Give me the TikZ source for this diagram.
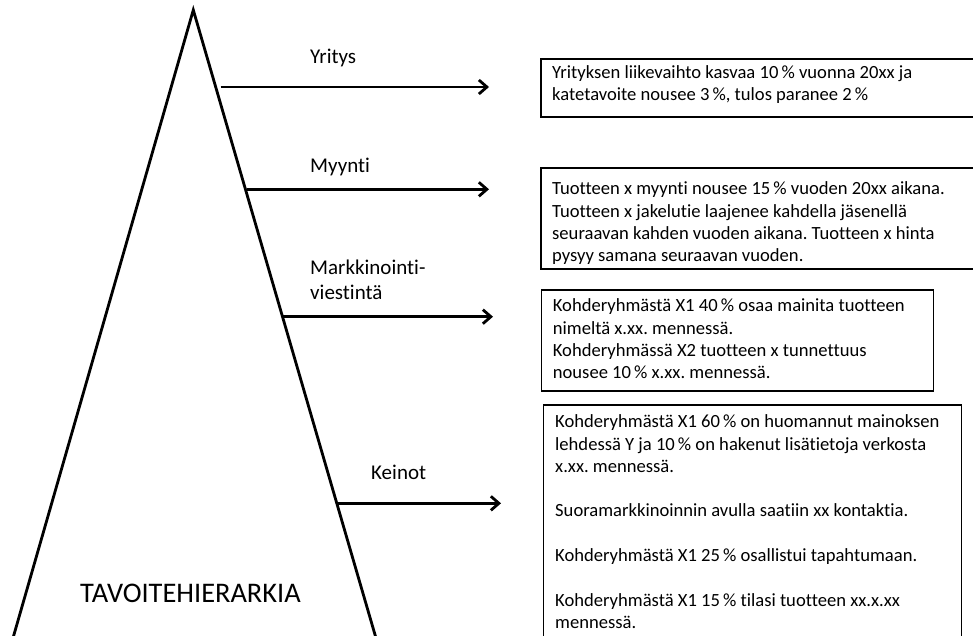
\documentclass[tikz,border=0pt]{standalone}
\usepackage{fontspec}
\setmainfont{Carlito}[Ligatures={NoCommon}]
\usetikzlibrary{arrows.meta,calc}
\frenchspacing
\newcommand{\boxlines}[1]{\parbox[t]{420pt}{\raggedright\frenchspacing\fontsize{18.6pt}{22.3pt}\selectfont #1}}
\tikzset{
  edge/.style={line width=2.8pt, line join=miter},
  arr/.style={line width=2.8pt, -{Straight Barb[length=8pt,width=14pt,line width=2.8pt]}},
  boxframe/.style={draw, line width=1.6pt, inner sep=0pt, anchor=north west},
  boxtxt/.style={anchor=base west, inner sep=0pt},
  lbl/.style={anchor=base west, inner sep=0pt, font=\fontsize{21pt}{25.5pt}\selectfont},
  title/.style={anchor=base west, inner sep=0pt, font=\fontsize{28.4pt}{32pt}\selectfont}
}
\begin{document}
\begin{tikzpicture}[x=1pt,y=-1pt]
\useasboundingbox (0,0) rectangle (973,636);
% pyramid
\coordinate (apex) at (193.3,10);
\coordinate (bl) at (11,645);
\coordinate (br) at (378,645);
\draw[edge] (bl) -- (apex) -- (br);
% boxes
\node[boxframe, minimum width=450pt, minimum height=58pt] (b1) at (540,58.3) {};
\node[boxframe, minimum width=450pt, minimum height=101pt] (b2) at (540,167.3) {};
\node[boxframe, minimum width=392pt, minimum height=100.7pt] (b3) at (540.7,289.3) {};
\node[boxframe, minimum width=418pt, minimum height=250pt] (b4) at (542.7,404) {};
% box texts
\node[boxtxt] (t1) at (552,78.3) {\boxlines{Yrityksen liikevaihto kasvaa 10\,\% vuonna 20xx ja\\katetavoite nousee 3\,\%, tulos paranee 2\,\%}};
\node[boxtxt] (t2) at (552,195) {\boxlines{Tuotteen x myynti nousee 15\,\% vuoden 20xx aikana.\\Tuotteen x jakelutie laajenee kahdella jäsenellä\\seuraavan kahden vuoden aikana. Tuotteen x hinta\\pysyy samana seuraavan vuoden.}};
\node[boxtxt] (t3) at (552.7,311.7) {\boxlines{Kohderyhmästä X1 40\,\% osaa mainita tuotteen\\nimeltä x.xx. mennessä.\\Kohderyhmässä X2 tuotteen x tunnettuus\\nousee 10\,\% x.xx. mennessä.}};
\node[boxtxt] (t4) at (555,427.7) {\boxlines{Kohderyhmästä X1 60\,\% on huomannut mainoksen\\lehdessä Y ja 10\,\% on hakenut lisätietoja verkosta\\x.xx. mennessä.\\[22.3pt]Suoramarkkinoinnin avulla saatiin xx kontaktia.\\[22.3pt]Kohderyhmästä X1 25\,\% osallistui tapahtumaan.\\[22.3pt]Kohderyhmästä X1 15\,\% tilasi tuotteen xx.x.xx\\mennessä.}};
% labels
\node[lbl] (l1) at (310,64) {Yritys};
\node[lbl] (l2) at (310,172.3) {Myynti};
\node[lbl] (l3) at (310,274) {Markkinointi-};
\node[lbl] (l3b) at (310,299) {viestintä};
\node[lbl] (l4) at (371,479) {Keinot};
\node[title] (tt) at (80,602) {TAVOITEHIERARKIA};
% arrows
\coordinate (s1) at (220.5,87);  \coordinate (e1) at (489,87);
\coordinate (s2) at (246.5,189.3); \coordinate (e2) at (489,189.3);
\coordinate (s3) at (283,316.7); \coordinate (e3) at (493,316.7);
\coordinate (s4) at (336.5,503.3); \coordinate (e4) at (501,503.3);
\draw[arr] (s1) -- (e1);
\draw[arr] (s2) -- (e2);
\draw[arr] (s3) -- (e3);
\draw[arr] (s4) -- (e4);
\end{tikzpicture}
\end{document}
